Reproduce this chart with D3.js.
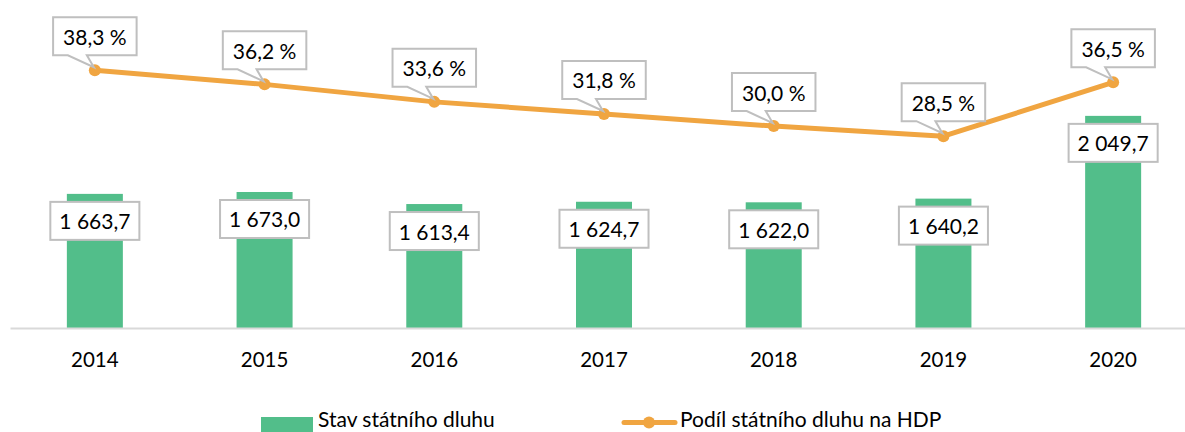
<!DOCTYPE html>
<html>
<head>
<meta charset="utf-8">
<script src="https://cdn.jsdelivr.net/npm/d3@7"></script>
<style>
  html, body { margin: 0; padding: 0; background: #fff; }
  svg { display: block; font-family: Lato, "Open Sans", sans-serif; }
</style>
</head>
<body>
<svg id="chart" width="1185" height="432"></svg>
<script>
const years = ["2014", "2015", "2016", "2017", "2018", "2019", "2020"];
const debt = [1663.7, 1673.0, 1613.4, 1624.7, 1622.0, 1640.2, 2049.7];
const debtLabels = ["1 663,7", "1 673,0", "1 613,4", "1 624,7", "1 622,0", "1 640,2", "2 049,7"];
const share = [38.3, 36.2, 33.6, 31.8, 30.0, 28.5, 36.5];
const shareLabels = ["38,3 %", "36,2 %", "33,6 %", "31,8 %", "30,0 %", "28,5 %", "36,5 %"];
const legendNames = ["Stav státního dluhu", "Podíl státního dluhu na HDP"];

const green = "#52BE8A", orange = "#F0A541", boxStroke = "#BFBFBF";
const svg = d3.select("#chart");

const x = d3.scaleBand().domain(years).range([10, 1198]).paddingInner(0.67).paddingOuter(0.335);
const yBar = d3.scaleLinear().domain([1000, 2200]).range([328, 85.5]);
const yLine = d3.scaleLinear().domain([0, 40]).range([328, 58.8]);

// bars
svg.append("g").selectAll("rect").data(years).join("rect")
  .attr("x", d => x(d)).attr("width", x.bandwidth())
  .attr("y", (d, i) => yBar(debt[i]))
  .attr("height", (d, i) => yBar(1000) - yBar(debt[i]))
  .attr("fill", green);

// x axis
const ax = svg.append("g").attr("transform", "translate(0,328)")
  .call(d3.axisBottom(x).tickSize(0).tickPadding(0));
ax.select(".domain").attr("stroke", "#D9D9D9").attr("stroke-width", 2);
ax.selectAll("text").attr("font-size", 20.5).attr("fill", "#000")
  .attr("dy", null).attr("y", 39).attr("font-family", "Lato");

// line
const cx = (d, i) => x(years[i]) + x.bandwidth() / 2;
svg.append("path").datum(share)
  .attr("d", d3.line().x((d, i) => cx(d, i)).y(d => yLine(d)))
  .attr("fill", "none").attr("stroke", orange).attr("stroke-width", 5)
  .attr("stroke-linejoin", "round");
svg.append("g").selectAll("circle").data(share).join("circle")
  .attr("cx", (d, i) => cx(d, i)).attr("cy", d => yLine(d)).attr("r", 6)
  .attr("fill", orange);

// bar labels
const bl = svg.append("g").selectAll("g").data(debt).join("g");
bl.each(function (d, i) {
  const g = d3.select(this);
  const cxx = cx(d, i), cy = yBar(d) + 27;
  const rect = g.append("rect");
  const t = g.append("text").attr("x", cxx).attr("y", cy).attr("text-anchor", "middle")
    .attr("dominant-baseline", "central").attr("font-size", 21).attr("fill", "#000")
    .text(debtLabels[i]);
  const w = t.node().getComputedTextLength() + 18;
  rect.attr("x", cxx - w / 2).attr("y", cy - 19).attr("width", w).attr("height", 38)
    .attr("fill", "#fff").attr("stroke", boxStroke).attr("stroke-width", 2);
  t.raise();
});

// line labels (callouts)
const ll = svg.append("g").selectAll("g").data(share).join("g");
ll.each(function (d, i) {
  const g = d3.select(this);
  const px = cx(d, i), py = yLine(d);
  const cy = py - 34;
  const path = g.append("path");
  const t = g.append("text").attr("x", px).attr("y", cy).attr("text-anchor", "middle")
    .attr("dominant-baseline", "central").attr("font-size", 21).attr("fill", "#000")
    .text(shareLabels[i]);
  const w = t.node().getComputedTextLength() + 20;
  const l = px - w / 2, r = px + w / 2, top = cy - 19, bot = cy + 19;
  path.attr("d", `M${l},${top}H${r}V${bot}H${px - 8}L${px - 1},${py - 3}L${px - 27},${bot}H${l}Z`)
    .attr("fill", "#fff").attr("stroke", boxStroke).attr("stroke-width", 2)
    .attr("stroke-linejoin", "miter");
  t.raise();
});

// legend
const lg = svg.append("g");
lg.append("rect").attr("x", 261).attr("y", 417).attr("width", 52).attr("height", 15).attr("fill", green);
lg.append("text").attr("x", 318).attr("y", 427).attr("font-size", 21).attr("fill", "#000").text(legendNames[0]);
lg.append("line").attr("x1", 624).attr("x2", 675).attr("y1", 422.5).attr("y2", 422.5)
  .attr("stroke", orange).attr("stroke-width", 5).attr("stroke-linecap", "round");
lg.append("circle").attr("cx", 649).attr("cy", 422.5).attr("r", 6).attr("fill", orange);
lg.append("text").attr("x", 680).attr("y", 427).attr("font-size", 21).attr("fill", "#000").text(legendNames[1]);
</script>
</body>
</html>
